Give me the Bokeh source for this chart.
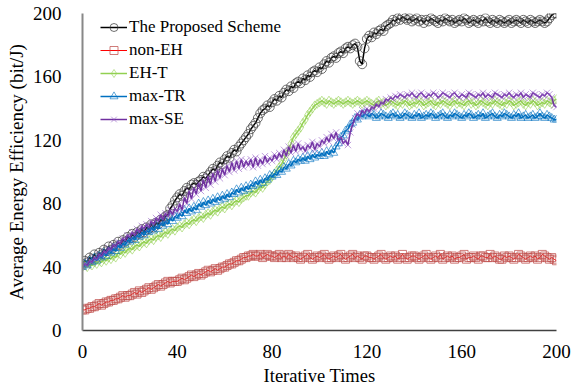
from bokeh.plotting import figure
from bokeh.models import Range1d, FixedTicker, Legend, LegendItem
from bokeh.embed import file_html
from bokeh.resources import INLINE

tick_values = [0, 40, 80, 120, 160, 200]
series_names = ["The Proposed Scheme", "non-EH", "EH-T", "max-TR", "max-SE"]

proposed = [
    42, 44, 43, 46, 45, 48, 46, 49, 48, 51, 50, 53, 51, 54, 53, 56, 54, 57, 56, 59,
    58, 61, 59, 62, 61, 64, 62, 65, 64, 67, 65, 68, 67, 70, 69, 72, 73, 77, 79, 82,
    84, 86, 85, 88, 90, 89, 92, 93, 92, 94, 95, 97, 96, 98, 100, 102, 101, 104, 106, 105,
    108, 110, 109, 112, 114, 113, 116, 118, 120, 122, 124, 127, 129, 131, 134, 137, 139, 140, 142, 141,
    144, 146, 145, 148, 147, 150, 152, 151, 154, 153, 156, 157, 156, 159, 158, 161, 160, 163, 164, 163,
    166, 165, 168, 170, 169, 172, 173, 172, 175, 176, 175, 178, 179, 178, 180, 181, 179, 170, 168, 178,
    184, 186, 185, 188, 187, 189, 190, 189, 192, 193, 194, 196, 195, 197, 196, 198, 197, 196, 197, 195,
    196, 197, 195, 196, 194, 196, 195, 197, 196, 195, 194, 196, 195, 197, 196, 195, 196, 194, 195, 196,
    195, 197, 196, 194, 195, 196, 195, 194, 196, 195, 197, 195, 194, 196, 195, 194, 196, 195, 194, 195,
    196, 194, 195, 196, 195, 194, 196, 195, 194, 196, 195, 194, 195, 196, 195, 194, 195, 197, 199, 200,
    200,
]

non_eh = [
    13, 13, 14, 14, 15, 15, 16, 17, 16, 17, 18, 18, 19, 19, 20, 20, 21, 22, 21, 22,
    22, 23, 24, 23, 25, 24, 25, 26, 27, 26, 27, 28, 29, 28, 29, 30, 31, 30, 31, 31,
    31, 32, 33, 32, 33, 34, 35, 34, 35, 36, 35, 36, 37, 38, 37, 38, 39, 38, 39, 40,
    40, 41, 42, 42, 43, 44, 44, 45, 46, 46, 47, 47, 48, 47, 47, 48, 46, 47, 48, 47,
    47, 46, 47, 48, 46, 47, 46, 48, 47, 46, 47, 46, 45, 46, 47, 48, 46, 45, 46, 47,
    46, 47, 48, 46, 45, 46, 47, 46, 47, 48, 46, 45, 46, 47, 48, 46, 47, 46, 45, 47,
    47, 46, 46, 45, 46, 47, 48, 46, 45, 46, 47, 46, 47, 45, 46, 48, 46, 45, 46, 47,
    47, 46, 45, 46, 47, 48, 46, 45, 46, 47, 46, 48, 45, 46, 47, 46, 47, 45, 46, 46,
    47, 48, 45, 46, 46, 47, 46, 45, 47, 47, 46, 46, 48, 46, 47, 46, 45, 45, 47, 46,
    47, 46, 45, 46, 48, 47, 46, 45, 46, 47, 46, 47, 45, 46, 48, 47, 46, 45, 46, 45,
    44,
]

eh_t = [
    40, 41, 40, 42, 41, 43, 42, 44, 43, 45, 44, 46, 45, 47, 46, 49, 48, 50, 49, 51,
    52, 51, 53, 54, 53, 55, 56, 55, 57, 58, 57, 59, 60, 59, 61, 62, 61, 63, 64, 63,
    65, 66, 65, 67, 68, 67, 69, 70, 69, 71, 72, 71, 73, 74, 73, 75, 76, 75, 77, 78,
    77, 79, 80, 79, 81, 82, 81, 83, 84, 85, 85, 87, 88, 87, 89, 91, 90, 92, 94, 95,
    97, 99, 101, 103, 105, 108, 111, 114, 118, 122, 124, 126, 128, 131, 133, 136, 138, 140, 142, 143,
    144, 145, 144, 143, 145, 144, 143, 144, 145, 144, 143, 144, 145, 144, 143, 144, 145, 144, 143, 144,
    145, 144, 143, 142, 144, 145, 143, 144, 142, 143, 145, 144, 143, 142, 144, 143, 145, 144, 142, 143,
    144, 143, 145, 144, 142, 143, 144, 145, 143, 142, 144, 143, 145, 144, 143, 142, 144, 145, 143, 144,
    143, 142, 144, 145, 143, 144, 142, 143, 145, 144, 143, 142, 144, 143, 145, 144, 143, 142, 144, 143,
    145, 144, 142, 143, 144, 145, 143, 142, 144, 143, 145, 144, 142, 143, 144, 143, 145, 144, 143, 145,
    146,
]

max_tr = [
    40, 42, 41, 44, 43, 46, 44, 47, 46, 49, 47, 50, 49, 52, 50, 54, 52, 55, 54, 57,
    56, 59, 57, 60, 59, 62, 60, 63, 62, 65, 63, 66, 64, 68, 66, 69, 67, 71, 69, 72,
    71, 74, 72, 76, 74, 77, 75, 78, 76, 80, 78, 81, 79, 82, 80, 83, 81, 84, 82, 85,
    83, 86, 84, 87, 86, 89, 87, 90, 88, 91, 89, 92, 91, 94, 92, 95, 93, 96, 95, 98,
    97, 99, 98, 101, 100, 103, 102, 105, 104, 107, 106, 108, 107, 109, 107, 110, 108, 111, 109, 111,
    110, 112, 110, 113, 111, 114, 112, 116, 118, 122, 123, 126, 127, 130, 131, 134, 133, 136, 135, 137,
    136, 135, 137, 136, 134, 135, 137, 136, 135, 134, 136, 137, 135, 136, 134, 135, 137, 136, 135, 134,
    136, 135, 137, 134, 135, 136, 135, 137, 136, 134, 135, 136, 137, 135, 134, 136, 135, 137, 136, 135,
    134, 136, 135, 137, 136, 134, 135, 136, 135, 137, 134, 135, 136, 137, 135, 134, 136, 135, 137, 136,
    135, 134, 136, 135, 137, 134, 135, 136, 134, 135, 136, 134, 135, 137, 135, 134, 136, 135, 134, 133,
    133,
]

max_se = [
    40, 42, 41, 44, 43, 46, 45, 48, 47, 50, 49, 52, 51, 54, 53, 56, 55, 58, 57, 60,
    59, 62, 60, 64, 62, 66, 64, 67, 65, 69, 67, 71, 69, 73, 70, 74, 72, 76, 73, 77,
    75, 80, 76, 84, 80, 88, 83, 90, 86, 93, 88, 95, 90, 97, 92, 99, 94, 101, 96, 102,
    98, 104, 100, 106, 101, 107, 102, 108, 103, 107, 104, 108, 103, 109, 104, 108, 105, 110, 106, 109,
    107, 111, 108, 112, 109, 114, 110, 116, 112, 117, 113, 118, 114, 116, 113, 117, 115, 119, 114, 118,
    116, 120, 118, 122, 119, 124, 121, 125, 120, 122, 118, 120, 117, 125, 130, 134, 137, 135, 139, 137,
    140, 138, 141, 140, 143, 141, 144, 143, 146, 145, 147, 146, 148, 147, 149, 148, 147, 149, 148, 150,
    148, 147, 149, 150, 148, 147, 149, 148, 150, 149, 147, 148, 150, 149, 148, 147, 149, 150, 148, 147,
    149, 148, 147, 150, 149, 148, 147, 149, 148, 150, 147, 149, 148, 147, 150, 149, 148, 147, 149, 148,
    150, 148, 147, 149, 148, 150, 147, 149, 148, 147, 150, 149, 148, 147, 149, 148, 150, 149, 147, 142,
    141,
]

SERIF = "Liberation Serif"

p = figure(
    width=586, height=389,
    output_backend="svg", toolbar_location=None,
    x_range=Range1d(0, 200), y_range=Range1d(0, 200),
    min_border_left=82, min_border_right=30, min_border_top=13, min_border_bottom=59,
    background_fill_color="white", border_fill_color="white",
)
p.outline_line_color = None
p.xgrid.visible = False
p.ygrid.visible = False

for ax in (p.xaxis[0], p.yaxis[0]):
    ax.ticker = FixedTicker(ticks=tick_values)
    ax.major_tick_line_color = None
    ax.minor_tick_line_color = None
    ax.major_label_text_font = SERIF
    ax.major_label_text_font_size = "19px"
    ax.major_label_text_color = "black"
    ax.axis_label_text_font = SERIF
    ax.axis_label_text_font_style = "normal"
    ax.axis_label_text_color = "black"

p.xaxis.axis_label = "Iterative Times"
p.yaxis.axis_label = "Average Energy Efficiency (bit/J)"
p.xaxis.axis_label_text_font_size = "18.5px"
p.yaxis.axis_label_text_font_size = "19px"
p.xaxis.axis_line_color = "#404040"
p.xaxis.axis_line_width = 1.5
p.yaxis.axis_line_color = "#888888"
p.yaxis.axis_line_width = 2
p.xaxis.major_label_standoff = 8
p.xaxis.axis_label_standoff = 5
p.yaxis.major_label_standoff = 15
p.yaxis.axis_label_standoff = 3

styles = [
    (proposed, "#000000", 1.5, "#404040", 0.75, "circle", 9),
    (non_eh, "#FF0000", 1.0, "#C0504D", 0.75, "square", 8),
    (eh_t, "#92D050", 1.5, "#92D050", 0.6, "diamond", 9),
    (max_tr, "#0070C0", 1.5, "#0070C0", 0.6, "triangle", 8),
    (max_se, "#7030A0", 1.5, "#8A50C0", 0.55, "x", 9),
]

items = []
for name, (ys, lc, lw, mc, ma, marker, size) in zip(series_names, styles):
    xs = list(range(len(ys)))
    r_line = p.line(xs, ys, line_color=lc, line_width=lw)
    r_mark = p.scatter(xs, ys, marker=marker, size=size, fill_color=None,
                       line_color=mc, line_alpha=ma, line_width=1)
    items.append(LegendItem(label=name, renderers=[r_line, r_mark]))

legend = Legend(
    items=items, location=(18, 200),
    border_line_color=None, background_fill_alpha=0,
    label_text_font=SERIF, label_text_font_size="17px", label_text_color="black",
    glyph_width=27, glyph_height=20, label_height=23, label_standoff=2,
    spacing=0, padding=0, margin=0,
)
p.add_layout(legend)

open("out.html", "w").write(file_html(p, INLINE))
